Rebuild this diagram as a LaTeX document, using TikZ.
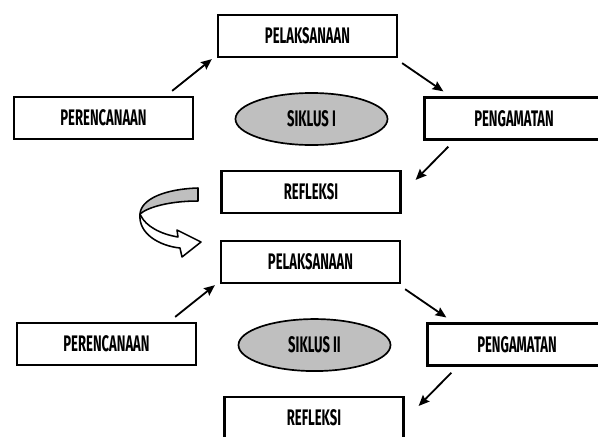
\documentclass[tikz,border=0pt]{standalone}
\usepackage{fontspec}
\setmainfont{Fira Sans}[FakeStretch=0.58]
\usetikzlibrary{arrows.meta,shapes,calc}

\begin{document}
\begin{tikzpicture}[x=0.025cm,y=-0.025cm,>={Stealth[length=2.7mm,width=2.3mm,inset=0.4mm]},node distance=5.65cm,
        box/.style={rectangle,draw=black,line width=1.6pt,minimum width=4.475cm,minimum height=1.05cm,inner sep=0,
          font=\fontsize{16}{18}\selectfont\bfseries},
        siklus/.style={ellipse,draw=black,fill=gray!50,line width=1.2pt,minimum width=3.8cm,minimum height=1.3cm,inner sep=0,
          font=\fontsize{16}{18}\selectfont\bfseries},
        arr/.style={->,line width=1.3pt}]
        \useasboundingbox (0,0) rectangle (598,436);
        % siklus I
        \node[box]     (pel1) at (307.5,36)  {PELAKSANAAN};
        \node[box]     (per1) at (103.5,118) {PERENCANAAN};
        \node[siklus]  (sik1) at (311.5,119) {SIKLUS I};
        \node[box]     (pen1) at (514,118.5) {PENGAMATAN};
        \node[box]     (ref1) at (311,192)   {REFLEKSI};
        % siklus II
        \node[box]     (pel2) [below of=pel1,xshift=0.075cm] {PELAKSANAAN};
        \node[box]     (per2) [below of=per1,xshift=0.075cm] {PERENCANAAN};
        \node[siklus]  (sik2) [below of=sik1,xshift=0.075cm] {SIKLUS II};
        \node[box]     (pen2) [below of=pen1,xshift=0.075cm] {PENGAMATAN};
        \node[box]     (ref2) [below of=ref1,xshift=0.075cm] {REFLEKSI};
        \foreach \c in {1,2} {
          \draw[arr] ($(per\c.north east)+(-22,-5)$) -- ($(pel\c.south west)+(-5,1)$);
          \draw[arr] ($(pel\c.south east)+(4,5)$) -- ($(pen\c.north west)+(20,-5)$);
          \draw[arr] ($(pen\c.south west)+(25,6)$) -- ($(ref\c.north east)+(14,10)$);
        }
        % lengkung
        \draw[line width=1.1pt,line join=round,fill=gray!50]
          (198,188) .. controls (165,189) and (141,199) .. (140,214)
          .. controls (148,207) and (170,201) .. (198,201) -- cycle;
        \draw[line width=1.1pt,line join=round,fill=white]
          (140,214) .. controls (138,234) and (160,246) .. (180,248)
          -- (182,257) -- (201,242) -- (177,230) -- (178,237)
          .. controls (160,234) and (146,226) .. (141,216) -- cycle;
      \end{tikzpicture}
\end{document}
